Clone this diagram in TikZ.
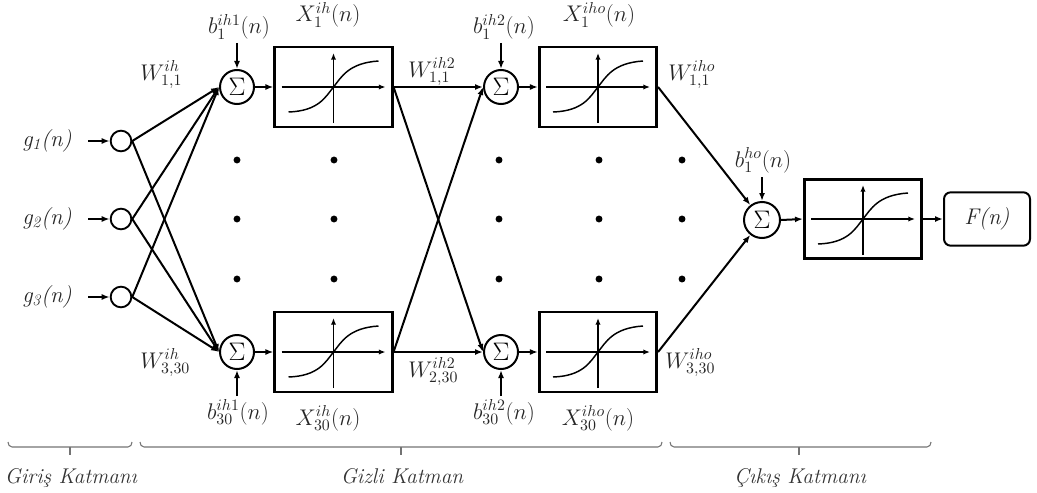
\documentclass[tikz,border=0pt]{standalone}
\usepackage{fontspec}
\usepackage{fix-cm}
\usetikzlibrary{arrows.meta}
\begin{document}
\begin{tikzpicture}[x=0.75pt,y=-0.75pt,
  arr/.style={-{Latex[length=6pt,width=4.5pt]}},
  conn/.style={line width=1.5pt, arr},
  inc/.style={circle, draw, line width=1.4pt, minimum size=15.5pt, inner sep=0pt},
  sumc/.style={circle, draw, line width=1.5pt, minimum size=25.5pt, inner sep=0pt, font=\fontsize{19}{21}\selectfont},
  actbox/.style={draw, line width=2.1pt, minimum width=88pt, minimum height=60pt, inner sep=0pt},
  lbl/.style={font=\fontsize{17}{19}\selectfont, text=black!85, inner sep=0pt},
  layercap/.style={font=\itshape\fontsize{16}{19}\selectfont, text=black!80, inner sep=0pt},
  brc/.style={draw=black!55, line width=0.8pt},
  dotc/.style={circle, fill, inner sep=0pt, minimum size=5.2pt},
  sigm/.pic={
    \draw[line width=1.4pt, -{Latex[length=5pt,width=4pt]}] (-52,0) -- (52,0);
    \draw[line width=1.4pt, -{Latex[length=5pt,width=4pt]}] (0,36) -- (0,-34);
    \draw[line width=1.1pt] (-45,25) .. controls (-15,24) and (-8,10) .. (0,0)
       .. controls (8,-10) and (15,-24) .. (45,-26);
  }]
\useasboundingbox (0,0) rectangle (1037,492);

% input layer
\node[inc] (g1) at (121,141) {};
\node[inc] (g2) at (121,219) {};
\node[inc] (g3) at (121,297) {};
\coordinate (gi1) at (88,141);
\coordinate (gi2) at (88,219);
\coordinate (gi3) at (88,297);
\draw[conn] (gi1) -- (g1);
\draw[conn] (gi2) -- (g2);
\draw[conn] (gi3) -- (g3);
\node[lbl, anchor=base west] (lg1) at (22,146) {\itshape g\textsubscript{1}(n)};
\node[lbl, anchor=base west] (lg2) at (22,224) {\itshape g\textsubscript{2}(n)};
\node[lbl, anchor=base west] (lg3) at (22,302) {\itshape g\textsubscript{3}(n)};

% hidden layer 1
\node[sumc] (s1) at (237,87) {$\Sigma$};
\node[sumc] (s2) at (237,352) {$\Sigma$};
\node[actbox] (b1) at (333.5,87) {};
\node[actbox] (b2) at (333.5,352) {};
\pic at (b1) {sigm};
\pic at (b2) {sigm};
\foreach \g in {g1,g2,g3}{
  \draw[conn] (\g.east) -- (s1.west);
  \draw[conn] (\g.east) -- (s2.west);
}
\draw[conn] (s1.east) -- (b1.west);
\draw[conn] (s2.east) -- (b2.west);
\coordinate (bt1) at (237,43);
\coordinate (bb1) at (237,396);
\draw[conn] (bt1) -- (s1.north);
\draw[conn] (bb1) -- (s2.south);

% hidden layer 2
\node[sumc] (t1) at (501,87) {$\Sigma$};
\node[sumc] (t2) at (501,352) {$\Sigma$};
\node[actbox] (c1) at (598,87) {};
\node[actbox] (c2) at (598,352) {};
\pic at (c1) {sigm};
\pic at (c2) {sigm};
\draw[conn] (b1.east) -- (t1.west);
\draw[conn] (b1.east) -- (t2.west);
\draw[conn] (b2.east) -- (t1.west);
\draw[conn] (b2.east) -- (t2.west);
\draw[conn] (t1.east) -- (c1.west);
\draw[conn] (t2.east) -- (c2.west);
\coordinate (bt2) at (501,43);
\coordinate (bb2) at (501,396);
\draw[conn] (bt2) -- (t1.north);
\draw[conn] (bb2) -- (t2.south);

% output
\node[sumc, minimum size=27pt] (so) at (762,220) {$\Sigma$};
\node[actbox, minimum height=59pt] (ob) at (863,219) {};
\pic at (ob) {sigm};
\node[draw, line width=1.5pt, rounded corners=5pt, minimum width=64.5pt, minimum height=40pt, font=\itshape\fontsize{17}{19}\selectfont, text=black!85] (F) at (987,219) {F(n)};
\draw[conn] (c1.east) -- (so);
\draw[conn] (c2.east) -- (so);
\draw[conn] (so.east) -- (ob.west);
\draw[conn] (ob.east) -- (F.west);
\coordinate (bo) at (762,177);
\draw[conn] (bo) -- (so.north);

% dots
\foreach \x in {237,334,499,599,682}
  \foreach \y in {160,219,279}
    \node[dotc] at (\x,\y) {};

% labels
\node[lbl, anchor=base] (lb1) at (239,34) {$b_1^{ih1}(n)$};
\node[lbl, anchor=base] (lb2) at (238,419) {$b_{30}^{ih1}(n)$};
\node[lbl, anchor=base] (lb3) at (504,34) {$b_1^{ih2}(n)$};
\node[lbl, anchor=base] (lb4) at (504,419) {$b_{30}^{ih2}(n)$};
\node[lbl, anchor=base] (lbo) at (763,167) {$b_1^{ho}(n)$};
\node[lbl, anchor=base] (lx1) at (328,22) {$X_1^{ih}(n)$};
\node[lbl, anchor=base] (lx2) at (328,425) {$X_{30}^{ih}(n)$};
\node[lbl, anchor=base] (lx3) at (599,22) {$X_1^{iho}(n)$};
\node[lbl, anchor=base] (lx4) at (598,425) {$X_{30}^{iho}(n)$};
\node[lbl, anchor=base west] (lw1) at (140,80) {$W_{1,1}^{ih}$};
\node[lbl, anchor=base west] (lw2) at (140,368) {$W_{3,30}^{ih}$};
\node[lbl, anchor=base west] (lw3) at (408,77) {$W_{1,1}^{ih2}$};
\node[lbl, anchor=base west] (lw4) at (408,377) {$W_{2,30}^{ih2}$};
\node[lbl, anchor=base west] (lw5) at (668,80) {$W_{1,1}^{iho}$};
\node[lbl, anchor=base west] (lw6) at (665,368) {$W_{3,30}^{iho}$};

% braces
\draw[brc] (8,442) to[out=-90,in=180] (12,447) -- (128,447) to[out=0,in=-90] (132,442);
\draw[brc] (70,447) -- (70,455);
\draw[brc] (140,442) to[out=-90,in=180] (144,447) -- (658,447) to[out=0,in=-90] (662,442);
\draw[brc] (401,447) -- (401,455);
\draw[brc] (670,442) to[out=-90,in=180] (674,447) -- (927,447) to[out=0,in=-90] (931,442);
\draw[brc] (799,447) -- (799,455);
\node[layercap, anchor=base] (k1) at (71,483) {Giriş Katmanı};
\node[layercap, anchor=base] (k2) at (402,483) {Gizli Katman};
\node[layercap, anchor=base] (k3) at (800,483) {Çıkış Katmanı};
\end{tikzpicture}
\end{document}
